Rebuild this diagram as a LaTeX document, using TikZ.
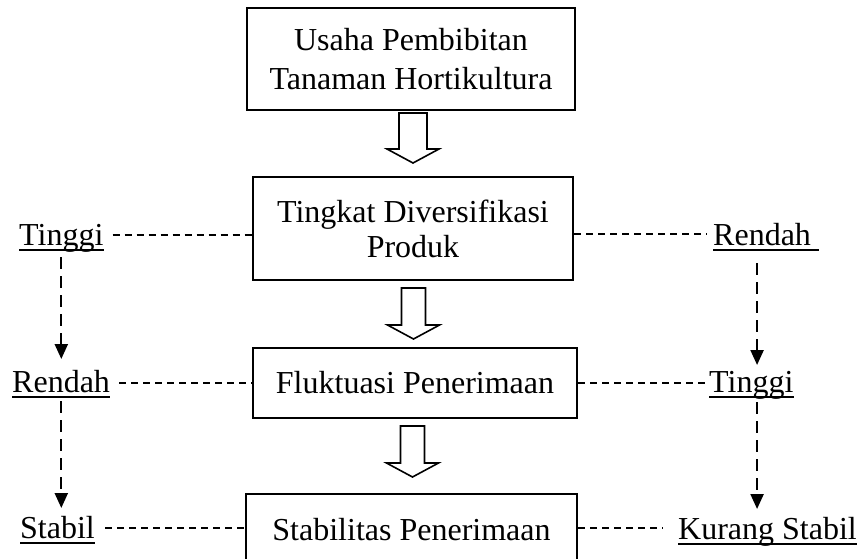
\documentclass[tikz,border=0pt]{standalone}
\usepackage{fontspec}
\setmainfont{Liberation Serif}
\usetikzlibrary{arrows.meta,calc}
\begin{document}
\begin{tikzpicture}[x=1pt,y=-1pt,
  boxnode/.style={draw,line width=2.3pt,inner sep=0pt,align=center,
    font=\fontsize{32}{35}\selectfont},
  lbl/.style={inner sep=0pt,anchor=base west,font=\fontsize{32}{35}\selectfont},
  hdash/.style={line width=1.3pt,dash pattern=on 7pt off 5pt},
  vdash/.style={line width=2.2pt,dash pattern=on 12pt off 7pt,
    -{Triangle[width=13pt,length=15pt]}},
  uline/.style={line width=1.7pt},
  barrow/.style={draw,line width=1.6pt,fill=white,line join=miter}]
\useasboundingbox (0,0) rectangle (862,558);

% main boxes
\node[boxnode,minimum width=328pt,minimum height=102pt,
  font=\fontsize{32}{39}\selectfont] (box1) at (411,59)
  {Usaha Pembibitan\\Tanaman Hortikultura};
\node[boxnode,minimum width=320pt,minimum height=103pt] (box2) at (413,228.5)
  {Tingkat Diversifikasi\\Produk};
\node[boxnode,minimum width=324pt,minimum height=70pt] (box3) at (415,383)
  {Fluktuasi Penerimaan};
\begin{scope}
\clip (0,0) rectangle (862,558);
\node[boxnode,minimum width=331pt,minimum height=72pt] (box4) at (411.5,530)
  {Stabilitas Penerimaan};
\end{scope}

% block arrows
\newcommand\blockarr[5]{%
  \draw[barrow] (#1-#2,#3) -- (#1+#2,#3) -- (#1+#2,#4) -- (#1+26,#4)
    -- (#1,#5) -- (#1-26,#4) -- (#1-#2,#4) -- cycle;}
\blockarr{413}{14}{113}{149}{163}
\blockarr{413.5}{12}{288}{325}{339}
\blockarr{412.5}{12}{426}{463}{477}

% labels
\node[lbl] (tinggiL) at (19,245) {Tinggi};
\node[lbl] (rendahL) at (12,392) {Rendah};
\node[lbl] (stabilL) at (20,538) {Stabil};
\node[lbl] (rendahR) at (713,245) {Rendah};
\node[lbl] (tinggiR) at (709,392) {Tinggi};
\node[lbl] (kurangR) at (678,539) {Kurang Stabil};

% underlines
\foreach \n in {tinggiL,rendahL,stabilL,tinggiR,kurangR}
  \draw[uline] ([yshift=-5pt]\n.base west) -- ([yshift=-5pt]\n.base east);
\draw[uline] ([yshift=-5pt]rendahR.base west) -- ([xshift=8pt,yshift=-5pt]rendahR.base east);

% horizontal dashed connectors
\draw[hdash] ([xshift=9pt,yshift=10pt]tinggiL.base east) -- ([yshift=10pt]tinggiL.base east -| box2.west);
\draw[hdash] ([xshift=9pt,yshift=9pt]rendahL.base east) -- ([yshift=9pt]rendahL.base east -| box3.west);
\draw[hdash] ([xshift=10pt,yshift=10pt]stabilL.base east) -- ([yshift=10pt]stabilL.base east -| box4.west);
\draw[hdash] ([yshift=11pt]rendahR.base west -| box2.east) -- ([xshift=-6pt,yshift=11pt]rendahR.base west);
\draw[hdash] ([yshift=9pt]tinggiR.base west -| box3.east) -- ([xshift=-1pt,yshift=9pt]tinggiR.base west);
\draw[hdash] ([yshift=11pt]kurangR.base west -| box4.east) -- ([xshift=-15pt,yshift=11pt]kurangR.base west);

% vertical dashed arrows
\draw[vdash] ([yshift=-12pt]tinggiL.base) -- ([yshift=33pt]tinggiL.base |- rendahL.base);
\draw[vdash] ([yshift=-9pt]tinggiL.base |- rendahL.base) -- ([yshift=30pt]tinggiL.base |- stabilL.base);
\draw[vdash] ([xshift=-5pt,yshift=-18pt]rendahR.base) -- ([xshift=-5pt,yshift=27pt]rendahR.base |- tinggiR.base);
\draw[vdash] ([xshift=-5pt,yshift=-10pt]rendahR.base |- tinggiR.base) -- ([xshift=-5pt,yshift=30pt]rendahR.base |- kurangR.base);
\end{tikzpicture}
\end{document}
